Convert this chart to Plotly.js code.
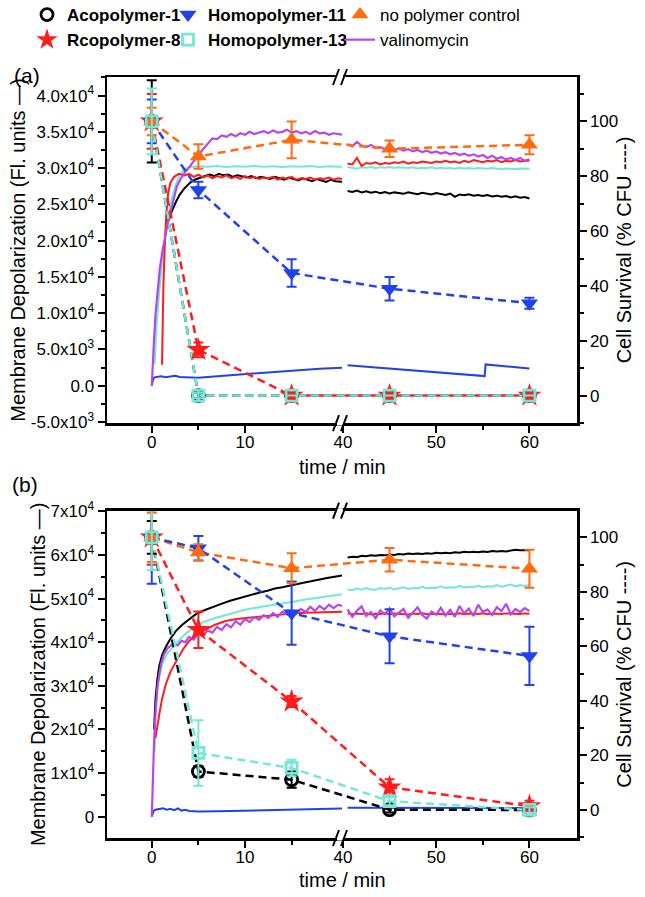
<!DOCTYPE html>
<html><head><meta charset="utf-8">
<script src="https://cdn.plot.ly/plotly-3.0.1.min.js"></script>
<style>html,body{margin:0;padding:0;background:#fff}#chart{width:645px;height:897px}</style>
</head><body><div id="chart"></div>
<script>
// ---------- Cell survival (% CFU), right axes ----------
const survTime = [0, 5, 15, 45, 60];
// panel (a)
const aAco = [100, 0, 0, 0, 0];            const aAcoErr = [15, 1, 0, 0, 0];
const aRco = [100, 16.7, 0, 0, 0];         const aRcoErr = [10, 2.7, 0.5, 0.5, 0.5];
const aH11 = [100, 75, 44.7, 39, 33.7];    const aH11Err = [8, 3, 5, 4.3, 2];
const aH13 = [100, 0, 0, 0, 0];            const aH13Err = [12, 1, 0, 0, 0];
const aCtrl = [100, 87.2, 93.3, 90, 91.5]; const aCtrlErr = [5, 4.5, 6.7, 3, 3.5];
// panel (b)
const bAco = [100, 14.1, 11.1, 0.1, 0];     const bAcoErr = [6, 2, 3, 1, 0.5];
const bRco = [100, 66.1, 39.8, 8.3, 1.4];   const bRcoErr = [10, 6.7, 2, 3, 2];
const bH11 = [100, 96, 72.2, 63.7, 56.5];   const bH11Err = [17, 4.5, 11.6, 9.9, 10.7];
const bH13 = [100, 20.9, 15.4, 3.2, 0];     const bH13Err = [12, 12, 3, 1.5, 1];
const bCtrl = [100, 94.5, 88.7, 91.8, 88.5]; const bCtrlErr = [9, 3, 5.5, 4.3, 7];

// ---------- Membrane depolarization (Fl. units), left axes ----------
const flTimeR = [40.5, 41, 41.5, 42, 42.5, 43, 43.5, 44, 44.5, 45, 45.5, 46, 46.5, 47, 47.5, 48, 48.5, 49, 49.5, 50,
                 50.5, 51, 51.5, 52, 52.5, 53, 53.5, 54, 54.5, 55, 55.5, 56, 56.5, 57, 57.5, 58, 58.5, 59, 59.5, 60];
// panel (a) – left part
const aValT = [0, 0.1, 0.25, 0.4, 0.6, 0.85, 1.15, 1.45, 1.7, 2.0, 2.3, 2.7, 3.1, 3.5, 4.0, 4.5, 5.0, 5.5, 6.0, 6.5, 7.0, 7.5, 8.0, 8.5,
               9.0, 9.5, 10.0, 10.5, 11.0, 11.5, 12.0, 12.5, 13.0, 13.5, 14.0, 14.5, 15.0, 15.5, 16.0, 16.5, 17.0, 17.5, 18.0, 18.5, 19.0, 19.5, 20.0, 20.4];
const aValL = [0, 3500, 6500, 9800, 13000, 16000, 18600, 20800, 22300, 23900, 25300, 27500, 28500, 29300, 30100, 31000, 31800, 32600, 33400, 34100,
               34000, 34500, 34300, 34700, 34400, 34800, 34600, 35000, 34700, 34900, 35100, 34800, 35200, 34900, 35000, 35300, 34900, 35100, 34800, 35000,
               34700, 35100, 34800, 34900, 34600, 34800, 34700, 34600];
const aRcoFlT = [1.1, 1.15, 1.25, 1.4, 1.55, 1.75, 2.0, 2.4, 2.9, 3.5, 4.0, 4.5, 5.0, 5.5, 6.0, 6.5, 7.0, 7.5, 8.0, 8.5, 9.0, 9.5,
                 10.0, 10.5, 11.0, 11.5, 12.0, 12.5, 13.0, 13.5, 14.0, 14.5, 15.0, 15.5, 16.0, 16.5, 17.0, 17.5, 18.0, 18.5, 19.0, 19.5, 20.0, 20.4];
const aRcoFlL = [2900, 8000, 14000, 19500, 23500, 26500, 28000, 28800, 29200, 29000, 29200, 28800, 29100, 28700, 29000, 28600, 28900, 28700, 29000, 28600,
                 28800, 28500, 28900, 28600, 28800, 28500, 28700, 28600, 28800, 28400, 28700, 28500, 28800, 28400, 28600, 28500, 28700, 28400, 28600, 28500,
                 28700, 28400, 28600, 28500];
const aAcoFlT = [1.7, 2.0, 2.3, 2.65, 3.0, 3.5, 4.1, 4.6, 5.2, 5.7, 6.2, 6.7, 7.2, 7.7, 8.2, 8.7, 9.2, 9.7, 10.2, 10.7, 11.2, 11.7, 12.2,
                 12.7, 13.2, 13.7, 14.2, 14.7, 15.2, 15.7, 16.2, 16.7, 17.2, 17.7, 18.2, 18.7, 19.2, 19.7, 20.4];
const aAcoFlL = [22500, 23600, 24500, 25500, 26350, 27200, 27960, 28400, 28730, 28900, 29100, 28900, 29200, 29000, 29100, 28800, 29000, 28900, 28700, 28900,
                 28600, 28800, 28700, 28500, 28800, 28600, 28400, 28700, 28500, 28300, 28600, 28400, 28200, 28500, 28300, 28100, 28400, 28200, 28100];
const aH13FlT = [0.3, 0.5, 0.8, 1.1, 1.5, 2.0, 2.5, 3.0, 3.5, 4.0, 4.5, 5.0, 6, 7, 8, 9, 10, 11, 12, 13, 14, 15, 16, 17, 18, 19, 20, 20.4];
const aH13FlL = [3000, 8000, 13000, 17000, 21000, 25000, 27500, 29000, 29800, 30100, 30200, 30250, 30200, 30300, 30150, 30250, 30200, 30300, 30200, 30250,
                 30150, 30250, 30200, 30300, 30150, 30250, 30200, 30200];
const aH11FlT = [0, 0.15, 0.3, 0.6, 1.0, 1.5, 2.0, 2.5, 3.0, 3.5, 4.0, 5.0, 6.0, 8.0, 10, 12, 14, 16, 18, 20.4];
const aH11FlL = [0, 900, 1150, 1200, 1300, 1150, 1250, 1350, 1200, 1150, 1200, 1100, 1200, 1400, 1600, 1800, 2000, 2200, 2350, 2480];
// panel (a) – right part
const aValR = [33300, 33000, 33600, 33100, 32900, 33200, 32800, 32900, 32600, 32800,
               32500, 32700, 32400, 32600, 32300, 32500, 32200, 32400, 32100, 32300,
               32000, 32200, 31900, 32100, 31800, 32000, 31700, 31900, 31600, 31800,
               31400, 31700, 31300, 31500, 31200, 31400, 31100, 31400, 31000, 31200];
const aRcoFlR = [30600, 30500, 31400, 30300, 30700, 30600, 30800, 30500, 30700, 30600,
                 30800, 30700, 30900, 30600, 30800, 30700, 30900, 30800, 30700, 30900,
                 30800, 31000, 30800, 30900, 30700, 31000, 30800, 31100, 30900, 30800,
                 31000, 30900, 31100, 30800, 31000, 30900, 31100, 30900, 31000, 31000];
const aH13FlR = [30150, 30050, 29900, 30100, 30050, 30150, 30000, 30100, 30050, 30150,
                 30000, 30100, 30050, 30000, 30100, 29950, 30050, 30000, 30100, 29950,
                 30050, 29950, 30000, 29900, 30050, 29950, 30000, 29900, 30000, 29950,
                 29900, 30000, 29950, 29850, 29950, 29900, 29850, 29950, 29900, 29900];
const aAcoFlR = [26850, 26700, 26900, 26650, 26800, 26600, 26750, 26550, 26700, 26500,
                 26650, 26600, 26450, 26650, 26500, 26400, 26600, 26450, 26350, 26550,
                 26400, 26300, 26500, 26050, 26350, 26250, 26400, 26200, 26300, 26150,
                 26300, 26100, 26200, 26050, 26150, 25950, 26100, 25900, 26000, 25800];
const aH11FlRT = [40.5, 55.2, 55.3, 60];
const aH11FlR = [2800, 1320, 2930, 2380];
// panel (b) – left part
const bH11FlT = [0, 0.2, 0.4, 0.8, 1.2, 1.6, 2.0, 2.4, 2.8, 3.2, 3.6, 4.0, 5.0, 7, 10, 13, 16, 20.4];
const bH11FlL = [0, 1300, 1600, 1700, 1900, 1600, 1800, 1500, 1900, 1400, 1600, 1300, 1200, 1250, 1400, 1550, 1700, 1850];
const bAcoFlT = [0.25, 0.4, 0.6, 0.8, 1.1, 1.5, 2.0, 2.6, 3.3, 4.0, 4.7, 5.5, 6.2, 6.9, 7.6, 8.4, 9.2, 10.0, 10.8, 11.6, 12.4, 13.2, 14.0,
                 14.8, 15.6, 16.4, 17.2, 18.0, 18.8, 19.6, 20.4];
const bAcoFlL = [20000, 27000, 31500, 34500, 37000, 38900, 40800, 42600, 44070, 45300, 46360, 47200, 47800, 48290, 48900, 49500, 50000, 50500, 50900, 51400,
                 51800, 52300, 52600, 53000, 53300, 53700, 54000, 54400, 54700, 55000, 55300];
const bH13FlT = [0.3, 0.4, 0.7, 1.1, 1.6, 2.2, 2.8, 3.3, 4.4, 5.5, 6.9, 8.5, 10.1, 11.8, 13.6, 15.0, 16.5, 18.0, 19.7, 20.4];
const bH13FlL = [15000, 24000, 31000, 34900, 37200, 38700, 40100, 41300, 43300, 44600, 45600, 46600, 47500, 48100, 48650, 49200, 49800, 50300, 50800, 51000];
const bValT = [0, 0.1, 0.25, 0.43, 0.6, 0.8, 1.0, 1.3, 1.7, 2.2, 2.8, 3.2, 3.6, 4.0, 4.5, 5.0, 5.5, 6.0, 6.5, 7.0, 7.5, 8.0, 8.5, 9.0,
               9.5, 10, 10.5, 11, 11.5, 12, 12.5, 13, 13.5, 14, 14.5, 15, 15.5, 16, 16.5, 17, 17.5, 18, 18.5, 19, 19.5, 20, 20.4];
const bValL = [0, 8000, 17300, 24950, 29500, 32600, 35000, 37200, 38600, 39500,
               39300, 40300, 40000, 41200, 40600, 42100, 41500, 42700, 42200, 43500,
               42800, 44100, 43400, 44800, 44000, 45300, 44600, 45800, 45100, 46200,
               45500, 46700, 45800, 47000, 46300, 47400, 46500, 47600, 46900, 48100,
               47200, 48300, 47500, 48600, 47800, 48600, 48300];
const bRcoFlT = [0.4, 0.6, 0.8, 1.1, 1.5, 2.0, 2.6, 3.3, 4.0, 4.9, 5.8, 6.8, 7.9, 9.1, 10.4, 12.0, 13.6, 15.0, 16.5, 18.0, 19.7, 20.4];
const bRcoFlL = [18000, 21000, 23400, 27000, 30300, 33200, 35660, 38200, 40260, 41800, 42920, 44000, 44840, 45300, 45600, 46000, 46360, 46600, 46750, 46900, 46980, 47000];
// panel (b) – right part
const bAcoFlR = [59400, 59600, 59500, 59800, 59700, 59900, 59800, 60000, 59900, 60100,
                 60000, 60200, 60100, 60300, 60200, 60300, 60200, 60400, 60300, 60500,
                 60400, 60500, 60400, 60600, 60500, 60700, 60600, 60700, 60600, 60800,
                 60700, 60900, 60800, 60900, 60800, 61000, 61200, 61100, 61000, 61050];
const bH13FlR = [52100, 51900, 52300, 52000, 52400, 52100, 52000, 52400, 52200, 52500,
                 52100, 52300, 52600, 52200, 52400, 52300, 52700, 52300, 52500, 52400,
                 52800, 52400, 52600, 52500, 52900, 52500, 52700, 52600, 53000, 52600,
                 52800, 52700, 53100, 52700, 52900, 53200, 52800, 53100, 52900, 53100];
const bValR = [47500, 45800, 47200, 48200, 46000, 46900, 45500, 47300, 46400, 47800,
               45900, 46800, 47600, 45600, 46700, 48000, 46200, 45400, 47000, 46300,
               47900, 46100, 47400, 45800, 48300, 46600, 47700, 46000, 48600, 46900,
               47500, 46200, 48000, 47100, 48800, 46400, 47600, 46900, 47800, 47100];
const bRcoFlR = [46600, 46400, 46550, 46450, 46600, 46350, 46500, 46450, 46600, 46400,
                 46550, 46450, 46500, 46350, 46550, 46450, 46600, 46400, 46500, 46450,
                 46550, 46400, 46500, 46450, 46600, 46400, 46550, 46500, 46450, 46600,
                 46400, 46550, 46500, 46450, 46600, 46500, 46550, 46450, 46600, 46500];
const bH11FlRT = [40.5, 45, 50, 55, 60];
const bH11FlR = [2050, 2000, 2000, 1950, 1950];

// ---------- axes ticks / labels ----------
const xTicksL = [0, 10], xMinorL = [5, 15];
const xTicksR = [40, 50, 60], xMinorR = [45, 55];
const aYTicks = [-5000, 0, 5000, 10000, 15000, 20000, 25000, 30000, 35000, 40000];
const aYText = ['-5.0x10<sup>3</sup>', '0.0', '5.0x10<sup>3</sup>', '1.0x10<sup>4</sup>', '1.5x10<sup>4</sup>', '2.0x10<sup>4</sup>',
                '2.5x10<sup>4</sup>', '3.0x10<sup>4</sup>', '3.5x10<sup>4</sup>', '4.0x10<sup>4</sup>'];
const bYTicks = [0, 10000, 20000, 30000, 40000, 50000, 60000, 70000];
const bYText = ['0', '1x10<sup>4</sup>', '2x10<sup>4</sup>', '3x10<sup>4</sup>', '4x10<sup>4</sup>', '5x10<sup>4</sup>', '6x10<sup>4</sup>', '7x10<sup>4</sup>'];

// ---------- styling ----------
const C = {black: '#000000', red: '#ff1c1c', blue: '#2142e6', cyan: '#74e8d6', orange: '#ff6c10', purple: '#b548e8'};
const xLeftRange = [-4.8, 20.4], xRightRange = [39.9, 65.1];
const BREAK_GAP = xRightRange[0] - xLeftRange[1];   // span hidden by the axis break
const toLeftAxis = t => (t >= xRightRange[0] ? t - BREAK_GAP : t);
const toRightAxis = t => (t <= xLeftRange[1] ? t + BREAK_GAP : t);
const AX = {a: {xl: 'x', xr: 'x2', yf: 'y', ys: 'y2'}, b: {xl: 'x3', xr: 'x4', yf: 'y3', ys: 'y4'}};
const DASH = '8px,5px';

function fluo(ax, tL, vL, tR, vR, color, width, leg) {
  const l = {x: tL, y: vL, xaxis: ax.xl, yaxis: ax.yf, mode: 'lines', line: {color: color, width: width}, showlegend: false, hoverinfo: 'skip'};
  if (leg) Object.assign(l, leg, {showlegend: true});
  return [l, {x: tR, y: vR, xaxis: ax.xr, yaxis: ax.yf, mode: 'lines', line: {color: color, width: width}, showlegend: false, hoverinfo: 'skip'}];
}
function survLines(ax, v, color) {
  return [[ax.xl, toLeftAxis], [ax.xr, toRightAxis]].map(([xa, f]) => ({x: survTime.map(f), y: v, xaxis: xa, yaxis: ax.ys, mode: 'lines',
    line: {color: color, width: 2.5, dash: DASH}, showlegend: false, hoverinfo: 'skip'}));
}
function survMarkers(ax, v, e, color, marker, leg) {
  const idxL = survTime.map((t, i) => i).filter(i => survTime[i] <= xLeftRange[1]);
  const idxR = survTime.map((t, i) => i).filter(i => survTime[i] >= xRightRange[0]);
  return [[ax.xl, idxL], [ax.xr, idxR]].map(([xa, idx], k) => {
    const tr = {x: idx.map(i => survTime[i]), y: idx.map(i => v[i]), xaxis: xa, yaxis: ax.ys, mode: 'markers',
      marker: marker, error_y: {type: 'data', array: idx.map(i => e[i]), color: color, thickness: 2, width: 5},
      showlegend: false, hoverinfo: 'skip'};
    if (k === 0 && leg) Object.assign(tr, leg, {showlegend: true});
    return tr;
  });
}
const M = {
  aco: {symbol: 'circle-open', size: 12, color: C.black, line: {width: 2.8}},
  rco: {symbol: 'star', size: 18, color: C.red, line: {width: 0}},
  h11: {symbol: 'triangle-down', size: 15, color: C.blue, line: {width: 0}},
  h13: {symbol: 'square-open', size: 11, color: C.cyan, line: {width: 2.8}},
  ctrl: {symbol: 'triangle-up', size: 15, color: C.orange, line: {width: 0}}
};

const data = [];
// fluorescence traces
data.push(...fluo(AX.a, aH11FlT, aH11FlL, aH11FlRT, aH11FlR, C.blue, 2));
data.push(...fluo(AX.a, aH13FlT, aH13FlL, flTimeR, aH13FlR, C.cyan, 2));
data.push(...fluo(AX.a, aAcoFlT, aAcoFlL, flTimeR, aAcoFlR, C.black, 2));
data.push(...fluo(AX.a, aRcoFlT, aRcoFlL, flTimeR, aRcoFlR, C.red, 2));
data.push(...fluo(AX.a, aValT, aValL, flTimeR, aValR, C.purple, 2.2,
  {name: 'valinomycin', legend: 'legend3', legendrank: 2}));
data.push(...fluo(AX.b, bH11FlT, bH11FlL, bH11FlRT, bH11FlR, C.blue, 2));
data.push(...fluo(AX.b, bH13FlT, bH13FlL, flTimeR, bH13FlR, C.cyan, 2));
data.push(...fluo(AX.b, bAcoFlT, bAcoFlL, flTimeR, bAcoFlR, C.black, 2));
data.push(...fluo(AX.b, bRcoFlT, bRcoFlL, flTimeR, bRcoFlR, C.red, 2));
data.push(...fluo(AX.b, bValT, bValL, flTimeR, bValR, C.purple, 2.2));
// survival dashed lines
[[AX.a, aCtrl, C.orange], [AX.a, aH11, C.blue], [AX.a, aRco, C.red], [AX.a, aAco, C.black], [AX.a, aH13, C.cyan],
 [AX.b, bCtrl, C.orange], [AX.b, bH11, C.blue], [AX.b, bRco, C.red], [AX.b, bAco, C.black], [AX.b, bH13, C.cyan]]
  .forEach(([ax, v, c]) => data.push(...survLines(ax, v, c)));
// survival markers
data.push(...survMarkers(AX.a, aAco, aAcoErr, C.black, M.aco, {name: 'Acopolymer-1', legend: 'legend', legendrank: 1}));
data.push(...survMarkers(AX.a, aRco, aRcoErr, C.red, M.rco, {name: 'Rcopolymer-8', legend: 'legend', legendrank: 2}));
data.push(...survMarkers(AX.a, aH11, aH11Err, C.blue, M.h11, {name: 'Homopolymer-11', legend: 'legend2', legendrank: 1}));
data.push(...survMarkers(AX.a, aCtrl, aCtrlErr, C.orange, M.ctrl, {name: 'no polymer control', legend: 'legend3', legendrank: 1}));
data.push(...survMarkers(AX.a, aH13, aH13Err, C.cyan, M.h13, {name: 'Homopolymer-13', legend: 'legend2', legendrank: 2}));
data.push(...survMarkers(AX.b, bAco, bAcoErr, C.black, M.aco));
data.push(...survMarkers(AX.b, bRco, bRcoErr, C.red, M.rco));
data.push(...survMarkers(AX.b, bH11, bH11Err, C.blue, M.h11));
data.push(...survMarkers(AX.b, bCtrl, bCtrlErr, C.orange, M.ctrl));
data.push(...survMarkers(AX.b, bH13, bH13Err, C.cyan, M.h13));

// ---------- layout ----------
const FONT = 'Liberation Sans, Arial, sans-serif';
const base = {showline: true, linecolor: '#000', linewidth: 2.5, ticks: 'outside', ticklen: 7, tickwidth: 2, tickcolor: '#000',
  showgrid: false, zeroline: false, automargin: false, tickfont: {size: 17, color: '#000', family: FONT}};
const minorBase = {ticks: 'outside', ticklen: 4, tickwidth: 2, tickcolor: '#000', showgrid: false};
const aDom = [0.5453, 1], bDom = [0, 0.4301];
const yTitleL = {text: 'Membrane Depolarization (Fl. units \u2014)', font: {size: 20, family: FONT}, standoff: 0};
const yTitleR = {text: 'Cell Survival (% CFU ----)', font: {size: 20, family: FONT}, standoff: 0};

function xAx(dom, range, anchor, tv, mv) {
  return Object.assign({}, base, {domain: dom, range: range.slice(), anchor: anchor, mirror: true, tickmode: 'array', tickvals: tv.slice(),
    ticklabelstandoff: -5, minor: Object.assign({}, minorBase, {tickmode: 'array', tickvals: mv.slice()})});
}
function breakMarks(yp) {
  const common = {xref: 'paper', yref: 'paper', xsizemode: 'pixel', ysizemode: 'pixel', xanchor: 0.5, yanchor: yp, layer: 'above'};
  return [
    Object.assign({type: 'rect', x0: -5, x1: 1, y0: -2.5, y1: 2.5, fillcolor: '#fff', line: {width: 0}}, common),
    Object.assign({type: 'line', x0: -9, x1: -3, y0: -8, y1: 8, line: {color: '#000', width: 2}}, common),
    Object.assign({type: 'line', x0: -1, x1: 5, y0: -8, y1: 8, line: {color: '#000', width: 2}}, common)
  ];
}
const PX = px => (px - 107) / 470;   // page x -> paper x
const PY = py => (838 - py) / 761;   // page y -> paper y
const legBase = {xref: 'paper', yref: 'paper', xanchor: 'left', yanchor: 'top', y: PY(-3), bgcolor: 'rgba(0,0,0,0)',
  borderwidth: 0, tracegroupgap: 0, traceorder: 'normal', orientation: 'v'};

const layout = {
  width: 645, height: 897,
  margin: {l: 107, r: 68, t: 77, b: 59, autoexpand: false},
  paper_bgcolor: '#fff', plot_bgcolor: 'rgba(0,0,0,0)',
  font: {family: FONT, color: '#000', size: 17},
  xaxis: xAx([0, 0.5], xLeftRange, 'y', xTicksL, xMinorL),
  xaxis2: xAx([0.5, 1], xRightRange, 'y', xTicksR, xMinorR),
  xaxis3: xAx([0, 0.5], xLeftRange, 'y3', xTicksL, xMinorL),
  xaxis4: xAx([0.5, 1], xRightRange, 'y3', xTicksR, xMinorR),
  yaxis: Object.assign({}, base, {domain: aDom, range: [-5150, 42560], anchor: 'x', tickmode: 'array', tickvals: aYTicks, ticktext: aYText,
    minor: Object.assign({}, minorBase, {dtick: 2500, tick0: 0}), title: yTitleL}),
  yaxis2: Object.assign({}, base, {overlaying: 'y', side: 'right', anchor: 'x2', range: [-10, 116.2], tickmode: 'linear', tick0: 0, dtick: 20,
    minor: Object.assign({}, minorBase, {dtick: 10, tick0: 0}), title: yTitleR}),
  yaxis3: Object.assign({}, base, {domain: bDom, range: [-4890, 70140], anchor: 'x3', tickmode: 'array', tickvals: bYTicks, ticktext: bYText,
    minor: Object.assign({}, minorBase, {dtick: 5000, tick0: 0}), title: yTitleL}),
  yaxis4: Object.assign({}, base, {overlaying: 'y3', side: 'right', anchor: 'x4', range: [-10.3, 109.8], tickmode: 'linear', tick0: 0, dtick: 20,
    minor: Object.assign({}, minorBase, {dtick: 10, tick0: 0}), title: yTitleR}),
  legend: Object.assign({}, legBase, {x: PX(27), font: {size: 17, family: FONT, weight: 'bold'}}),
  legend2: Object.assign({}, legBase, {x: PX(168), font: {size: 17, family: FONT, weight: 'bold'}}),
  legend3: Object.assign({}, legBase, {x: PX(340), font: {size: 17, family: FONT}}),
  shapes: [].concat(breakMarks(1), breakMarks(aDom[0]), breakMarks(bDom[1]), breakMarks(0)),
  annotations: [
    {text: 'time / min', xref: 'paper', yref: 'paper', x: 0.5, y: PY(467), xanchor: 'center', yanchor: 'middle', showarrow: false, font: {size: 20}},
    {text: 'time / min', xref: 'paper', yref: 'paper', x: 0.5, y: PY(880), xanchor: 'center', yanchor: 'middle', showarrow: false, font: {size: 20}},
    {text: '(a)', xref: 'paper', yref: 'paper', x: PX(27), y: PY(75), xanchor: 'center', yanchor: 'middle', showarrow: false, font: {size: 21}},
    {text: '(b)', xref: 'paper', yref: 'paper', x: PX(25), y: PY(484), xanchor: 'center', yanchor: 'middle', showarrow: false, font: {size: 21}}
  ]
};

Plotly.newPlot('chart', data, layout, {displayModeBar: false, staticPlot: true});
</script></body></html>
